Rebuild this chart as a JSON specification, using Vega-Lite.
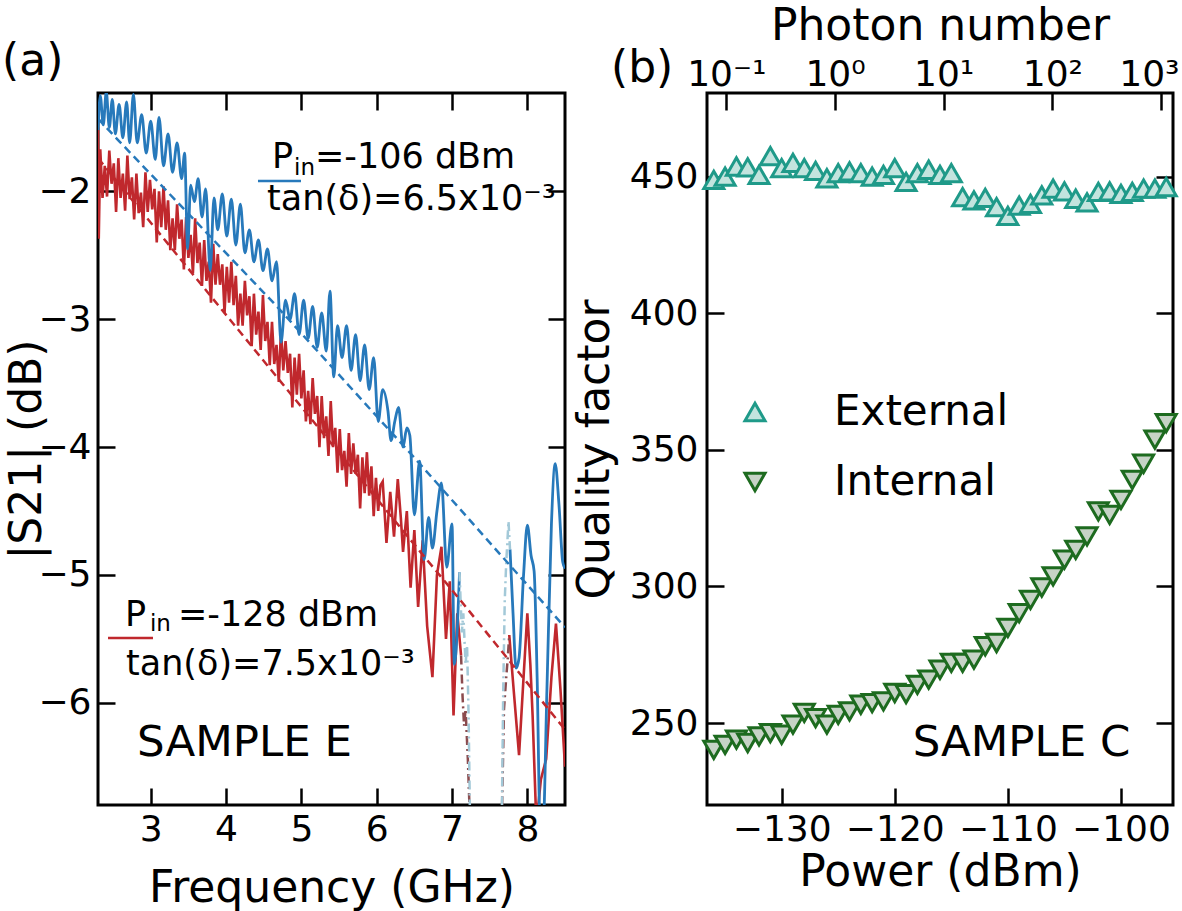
{
  "$schema": "https://vega.github.io/schema/vega-lite/v6.json",
  "padding": {"left": 0, "top": 2, "right": 0, "bottom": 0},
  "background": "white",
  "spacing": 3,
  "resolve": {"legend": {"shape": "independent", "stroke": "independent", "fill": "independent"}},
  "config": {
    "font": "DejaVu Sans",
    "view": {"stroke": "black", "strokeWidth": 3},
    "axis": {"grid": false, "domain": false, "tickColor": "black", "tickWidth": 2.5, "tickSize": -17, "labelPadding": 24, "labelFontSize": 36, "labelColor": "black", "labelFont": "DejaVu Sans", "titleFont": "DejaVu Sans", "titleFontSize": 44, "titleFontWeight": "normal", "titleColor": "black", "labelFlush": false, "labelOverlap": false},
    "title": {"font": "DejaVu Sans", "fontSize": 44, "fontWeight": "normal", "color": "black", "anchor": "start", "frame": "group"}
  },
  "datasets": {
    "blue": [
      {"f":2.30,"db":-1.52,"seg":1},{"f":2.33,"db":-1.25,"seg":1},{"f":2.37,"db":-1.48,"seg":1},{"f":2.41,"db":-1.22,"seg":1},{"f":2.45,"db":-1.50,"seg":1},{"f":2.49,"db":-1.28,"seg":1},{"f":2.53,"db":-1.55,"seg":1},{"f":2.58,"db":-1.32,"seg":1},{"f":2.63,"db":-1.58,"seg":1},{"f":2.68,"db":-1.30,"seg":1},{"f":2.72,"db":-1.62,"seg":1},{"f":2.77,"db":-1.24,"seg":1},{"f":2.82,"db":-1.62,"seg":1},{"f":2.88,"db":-1.40,"seg":1},{"f":2.94,"db":-1.70,"seg":1},{"f":3.00,"db":-1.45,"seg":1},{"f":3.06,"db":-1.75,"seg":1},{"f":3.11,"db":-1.42,"seg":1},{"f":3.17,"db":-1.80,"seg":1},{"f":3.23,"db":-1.55,"seg":1},{"f":3.29,"db":-1.85,"seg":1},{"f":3.35,"db":-1.62,"seg":1},{"f":3.41,"db":-1.90,"seg":1},{"f":3.45,"db":-1.70,"seg":1},{"f":3.49,"db":-2.45,"seg":1},{"f":3.53,"db":-1.95,"seg":1},{"f":3.58,"db":-2.08,"seg":1},{"f":3.63,"db":-1.90,"seg":1},{"f":3.68,"db":-2.20,"seg":1},{"f":3.73,"db":-1.98,"seg":1},{"f":3.79,"db":-2.62,"seg":1},{"f":3.84,"db":-2.05,"seg":1},{"f":3.89,"db":-2.30,"seg":1},{"f":3.95,"db":-2.02,"seg":1},{"f":4.01,"db":-2.35,"seg":1},{"f":4.07,"db":-2.06,"seg":1},{"f":4.13,"db":-2.42,"seg":1},{"f":4.19,"db":-2.10,"seg":1},{"f":4.25,"db":-2.48,"seg":1},{"f":4.31,"db":-2.30,"seg":1},{"f":4.37,"db":-2.55,"seg":1},{"f":4.43,"db":-2.38,"seg":1},{"f":4.49,"db":-2.62,"seg":1},{"f":4.55,"db":-2.45,"seg":1},{"f":4.61,"db":-2.70,"seg":1},{"f":4.67,"db":-2.55,"seg":1},{"f":4.73,"db":-3.18,"seg":1},{"f":4.79,"db":-2.85,"seg":1},{"f":4.85,"db":-3.00,"seg":1},{"f":4.91,"db":-2.80,"seg":1},{"f":4.97,"db":-3.12,"seg":1},{"f":5.03,"db":-2.85,"seg":1},{"f":5.09,"db":-3.15,"seg":1},{"f":5.15,"db":-2.90,"seg":1},{"f":5.21,"db":-3.22,"seg":1},{"f":5.27,"db":-2.95,"seg":1},{"f":5.33,"db":-3.25,"seg":1},{"f":5.38,"db":-2.78,"seg":1},{"f":5.43,"db":-3.45,"seg":1},{"f":5.48,"db":-3.05,"seg":1},{"f":5.54,"db":-3.30,"seg":1},{"f":5.60,"db":-3.05,"seg":1},{"f":5.66,"db":-3.40,"seg":1},{"f":5.72,"db":-3.12,"seg":1},{"f":5.78,"db":-3.48,"seg":1},{"f":5.84,"db":-3.20,"seg":1},{"f":5.90,"db":-3.55,"seg":1},{"f":5.96,"db":-3.30,"seg":1},{"f":6.02,"db":-3.80,"seg":1},{"f":6.08,"db":-3.55,"seg":1},{"f":6.15,"db":-3.72,"seg":1},{"f":6.19,"db":-3.95,"seg":1},{"f":6.24,"db":-3.80,"seg":1},{"f":6.29,"db":-3.69,"seg":1},{"f":6.35,"db":-4.00,"seg":1},{"f":6.40,"db":-3.85,"seg":1},{"f":6.44,"db":-3.91,"seg":1},{"f":6.50,"db":-4.53,"seg":1},{"f":6.57,"db":-4.11,"seg":1},{"f":6.63,"db":-4.88,"seg":1},{"f":6.69,"db":-4.55,"seg":1},{"f":6.74,"db":-4.79,"seg":1},{"f":6.80,"db":-4.50,"seg":1},{"f":6.86,"db":-4.28,"seg":1},{"f":6.93,"db":-4.94,"seg":1},{"f":7.00,"db":-4.60,"seg":1},{"f":7.03,"db":-5.70,"seg":1},{"f":7.10,"db":-4.98,"seg":1},
      {"f":7.77,"db":-4.80,"seg":2},{"f":7.81,"db":-5.30,"seg":2},{"f":7.85,"db":-5.73,"seg":2},{"f":7.89,"db":-5.65,"seg":2},{"f":7.95,"db":-5.00,"seg":2},{"f":8.00,"db":-4.61,"seg":2},{"f":8.05,"db":-4.85,"seg":2},{"f":8.09,"db":-4.97,"seg":2},{"f":8.13,"db":-5.80,"seg":2},{"f":8.17,"db":-6.95,"seg":2},{"f":8.21,"db":-6.95,"seg":2},{"f":8.26,"db":-5.90,"seg":2},{"f":8.32,"db":-4.60,"seg":2},{"f":8.37,"db":-4.13,"seg":2},{"f":8.42,"db":-4.45,"seg":2},{"f":8.47,"db":-4.90,"seg":2},{"f":8.50,"db":-4.95,"seg":2}
    ],
    "red": [
      {"f":2.300,"db":-1.50,"seg":1},{"f":2.310,"db":-2.37,"seg":1},{"f":2.33,"db":-1.67,"seg":1},{"f":2.36,"db":-2.05,"seg":1},{"f":2.39,"db":-1.80,"seg":1},{"f":2.42,"db":-2.04,"seg":1},{"f":2.45,"db":-1.68,"seg":1},{"f":2.48,"db":-1.94,"seg":1},{"f":2.51,"db":-1.78,"seg":1},{"f":2.54,"db":-2.16,"seg":1},{"f":2.57,"db":-1.74,"seg":1},{"f":2.60,"db":-2.05,"seg":1},{"f":2.63,"db":-1.86,"seg":1},{"f":2.66,"db":-2.15,"seg":1},{"f":2.69,"db":-1.72,"seg":1},{"f":2.72,"db":-2.06,"seg":1},{"f":2.75,"db":-1.89,"seg":1},{"f":2.78,"db":-2.22,"seg":1},{"f":2.81,"db":-1.86,"seg":1},{"f":2.84,"db":-2.17,"seg":1},{"f":2.87,"db":-2.01,"seg":1},{"f":2.90,"db":-2.28,"seg":1},{"f":2.93,"db":-1.85,"seg":1},{"f":2.96,"db":-2.16,"seg":1},{"f":2.99,"db":-1.91,"seg":1},{"f":3.02,"db":-2.14,"seg":1},{"f":3.05,"db":-1.98,"seg":1},{"f":3.08,"db":-2.40,"seg":1},{"f":3.11,"db":-2.00,"seg":1},{"f":3.14,"db":-2.28,"seg":1},{"f":3.17,"db":-1.96,"seg":1},{"f":3.20,"db":-2.30,"seg":1},{"f":3.23,"db":-2.07,"seg":1},{"f":3.26,"db":-2.46,"seg":1},{"f":3.29,"db":-2.21,"seg":1},{"f":3.32,"db":-2.46,"seg":1},{"f":3.35,"db":-2.10,"seg":1},{"f":3.38,"db":-2.37,"seg":1},{"f":3.41,"db":-2.22,"seg":1},{"f":3.44,"db":-2.61,"seg":1},{"f":3.47,"db":-2.20,"seg":1},{"f":3.50,"db":-2.52,"seg":1},{"f":3.53,"db":-2.34,"seg":1},{"f":3.56,"db":-2.64,"seg":1},{"f":3.59,"db":-2.21,"seg":1},{"f":3.62,"db":-2.56,"seg":1},{"f":3.65,"db":-2.40,"seg":1},{"f":3.68,"db":-2.74,"seg":1},{"f":3.71,"db":-2.38,"seg":1},{"f":3.74,"db":-2.70,"seg":1},{"f":3.77,"db":-2.55,"seg":1},{"f":3.80,"db":-2.87,"seg":1},{"f":3.83,"db":-2.41,"seg":1},{"f":3.86,"db":-2.73,"seg":1},{"f":3.89,"db":-2.49,"seg":1},{"f":3.92,"db":-2.73,"seg":1},{"f":3.95,"db":-2.57,"seg":1},{"f":3.98,"db":-2.95,"seg":1},{"f":4.01,"db":-2.59,"seg":1},{"f":4.04,"db":-2.87,"seg":1},{"f":4.07,"db":-2.55,"seg":1},{"f":4.10,"db":-2.89,"seg":1},{"f":4.13,"db":-2.66,"seg":1},{"f":4.16,"db":-3.05,"seg":1},{"f":4.19,"db":-2.80,"seg":1},{"f":4.22,"db":-3.05,"seg":1},{"f":4.25,"db":-2.70,"seg":1},{"f":4.28,"db":-2.97,"seg":1},{"f":4.31,"db":-2.82,"seg":1},{"f":4.34,"db":-3.21,"seg":1},{"f":4.37,"db":-2.80,"seg":1},{"f":4.40,"db":-3.12,"seg":1},{"f":4.43,"db":-2.94,"seg":1},{"f":4.46,"db":-3.24,"seg":1},{"f":4.49,"db":-2.81,"seg":1},{"f":4.52,"db":-3.17,"seg":1},{"f":4.55,"db":-3.02,"seg":1},{"f":4.58,"db":-3.36,"seg":1},{"f":4.61,"db":-3.02,"seg":1},{"f":4.64,"db":-3.35,"seg":1},{"f":4.67,"db":-3.20,"seg":1},{"f":4.70,"db":-3.49,"seg":1},{"f":4.73,"db":-3.08,"seg":1},{"f":4.76,"db":-3.40,"seg":1},{"f":4.79,"db":-3.17,"seg":1},{"f":4.82,"db":-3.42,"seg":1},{"f":4.85,"db":-3.27,"seg":1},{"f":4.88,"db":-3.69,"seg":1},{"f":4.91,"db":-3.30,"seg":1},{"f":4.94,"db":-3.59,"seg":1},{"f":4.97,"db":-3.27,"seg":1},{"f":5.00,"db":-3.62,"seg":1},{"f":5.03,"db":-3.40,"seg":1},{"f":5.06,"db":-3.80,"seg":1},{"f":5.09,"db":-3.56,"seg":1},{"f":5.12,"db":-3.82,"seg":1},{"f":5.15,"db":-3.46,"seg":1},{"f":5.18,"db":-3.74,"seg":1},{"f":5.21,"db":-3.60,"seg":1},{"f":5.24,"db":-4.00,"seg":1},{"f":5.27,"db":-3.60,"seg":1},{"f":5.30,"db":-3.93,"seg":1},{"f":5.33,"db":-3.76,"seg":1},{"f":5.36,"db":-4.07,"seg":1},{"f":5.39,"db":-3.64,"seg":1},{"f":5.42,"db":-4.00,"seg":1},{"f":5.45,"db":-3.85,"seg":1},{"f":5.48,"db":-4.20,"seg":1},{"f":5.51,"db":-3.86,"seg":1},{"f":5.54,"db":-4.18,"seg":1},{"f":5.57,"db":-4.03,"seg":1},{"f":5.60,"db":-4.31,"seg":1},{"f":5.63,"db":-3.89,"seg":1},{"f":5.66,"db":-4.21,"seg":1},{"f":5.69,"db":-3.97,"seg":1},{"f":5.72,"db":-4.21,"seg":1},{"f":5.75,"db":-4.06,"seg":1},{"f":5.78,"db":-4.48,"seg":1},{"f":5.81,"db":-4.08,"seg":1},{"f":5.84,"db":-4.36,"seg":1},{"f":5.87,"db":-4.04,"seg":1},{"f":5.90,"db":-4.38,"seg":1},{"f":5.93,"db":-4.15,"seg":1},{"f":5.96,"db":-4.54,"seg":1},{"f":5.99,"db":-4.24,"seg":1},{"f":6.02,"db":-4.50,"seg":1},{"f":6.05,"db":-4.30,"seg":1},{"f":6.08,"db":-4.27,"seg":1},{"f":6.13,"db":-4.75,"seg":1},{"f":6.18,"db":-4.35,"seg":1},{"f":6.23,"db":-4.70,"seg":1},{"f":6.28,"db":-4.25,"seg":1},{"f":6.32,"db":-4.55,"seg":1},{"f":6.35,"db":-4.82,"seg":1},{"f":6.40,"db":-4.50,"seg":1},{"f":6.45,"db":-5.10,"seg":1},{"f":6.50,"db":-4.65,"seg":1},{"f":6.55,"db":-5.25,"seg":1},{"f":6.61,"db":-4.73,"seg":1},{"f":6.67,"db":-5.40,"seg":1},{"f":6.74,"db":-5.80,"seg":1},{"f":6.80,"db":-5.00,"seg":1},{"f":6.86,"db":-4.78,"seg":1},{"f":6.92,"db":-5.50,"seg":1},{"f":6.97,"db":-5.05,"seg":1},{"f":7.02,"db":-6.10,"seg":1},{"f":7.07,"db":-5.30,"seg":1},{"f":7.12,"db":-5.63,"seg":1},
      {"f":7.76,"db":-5.47,"seg":2},{"f":7.82,"db":-5.91,"seg":2},{"f":7.89,"db":-6.41,"seg":2},{"f":7.95,"db":-5.80,"seg":2},{"f":8.00,"db":-5.30,"seg":2},{"f":8.04,"db":-5.70,"seg":2},{"f":8.07,"db":-6.10,"seg":2},{"f":8.12,"db":-6.95,"seg":2},{"f":8.18,"db":-6.60,"seg":2},{"f":8.25,"db":-6.44,"seg":2},{"f":8.32,"db":-5.80,"seg":2},{"f":8.38,"db":-5.38,"seg":2},{"f":8.44,"db":-5.90,"seg":2},{"f":8.50,"db":-6.50,"seg":2}
    ],
    "blue_res": [
      {"f":7.10,"db":-4.98,"seg":"a"},{"f":7.13,"db":-5.45,"seg":"a"},{"f":7.15,"db":-5.30,"seg":"a"},{"f":7.18,"db":-5.70,"seg":"a"},{"f":7.20,"db":-5.55,"seg":"a"},{"f":7.22,"db":-6.10,"seg":"a"},{"f":7.24,"db":-6.95,"seg":"a"},
      {"f":7.66,"db":-6.95,"seg":"b"},{"f":7.68,"db":-5.90,"seg":"b"},{"f":7.70,"db":-5.20,"seg":"b"},{"f":7.72,"db":-4.90,"seg":"b"},{"f":7.75,"db":-4.58,"seg":"b"},{"f":7.77,"db":-4.80,"seg":"b"}
    ],
    "red_res": [
      {"f":7.12,"db":-5.63,"seg":"a"},{"f":7.14,"db":-5.95,"seg":"a"},{"f":7.16,"db":-6.18,"seg":"a"},{"f":7.18,"db":-6.05,"seg":"a"},{"f":7.21,"db":-6.44,"seg":"a"},{"f":7.24,"db":-6.95,"seg":"a"},
      {"f":7.66,"db":-6.95,"seg":"b"},{"f":7.69,"db":-6.05,"seg":"b"},{"f":7.72,"db":-5.80,"seg":"b"},{"f":7.74,"db":-5.65,"seg":"b"},{"f":7.76,"db":-5.47,"seg":"b"}
    ],
    "blue_fit": [{"f":2.30,"db":-1.43},{"f":2.57,"db":-1.60},{"f":4.66,"db":-2.89},{"f":6.48,"db":-4.07},{"f":8.50,"db":-5.41}],
    "red_fit": [{"f":2.30,"db":-1.74},{"f":4.70,"db":-3.47},{"f":6.58,"db":-4.82},{"f":7.10,"db":-5.19},{"f":8.50,"db":-6.21}],
    "ann": [
      {"t":"P","f":4.610,"db":-1.817},
      {"t":"=-106 dBm","f":5.181,"db":-1.817},
      {"t":"tan(δ)=6.5x10⁻³","f":4.544,"db":-2.145},
      {"t":"P","f":2.658,"db":-5.401},
      {"t":"=-128 dBm","f":3.362,"db":-5.401},
      {"t":"tan(δ)=7.5x10⁻³","f":2.672,"db":-5.784}
    ],
    "ann_sub": [
      {"t":"in","f":4.902,"db":-1.872},
      {"t":"in","f":2.990,"db":-5.440}
    ],
    "sample_e": [{"t":"SAMPLE E","f":2.818,"db":-6.418}],
    "keyseg": [
      {"c":"blue","f1":4.424,"f2":4.995,"db":-1.919},
      {"c":"red","f1":2.433,"f2":3.030,"db":-5.494}
    ],
    "qf": [
      {"P":-136,"Q":448.8,"type":"External"},{"P":-135,"Q":450.0,"type":"External"},{"P":-134,"Q":453.7,"type":"External"},{"P":-133,"Q":453.4,"type":"External"},{"P":-132,"Q":450.6,"type":"External"},{"P":-131,"Q":457.5,"type":"External"},{"P":-130,"Q":453.1,"type":"External"},{"P":-129,"Q":455.0,"type":"External"},{"P":-128,"Q":453.1,"type":"External"},{"P":-127,"Q":452.1,"type":"External"},{"P":-126,"Q":449.4,"type":"External"},{"P":-125,"Q":451.3,"type":"External"},{"P":-124,"Q":451.9,"type":"External"},{"P":-123,"Q":451.3,"type":"External"},{"P":-122,"Q":450.0,"type":"External"},{"P":-121,"Q":450.6,"type":"External"},{"P":-120,"Q":453.1,"type":"External"},{"P":-119,"Q":448.1,"type":"External"},{"P":-118,"Q":451.3,"type":"External"},{"P":-117,"Q":452.5,"type":"External"},{"P":-116,"Q":450.6,"type":"External"},{"P":-115,"Q":451.3,"type":"External"},{"P":-114,"Q":442.5,"type":"External"},{"P":-113,"Q":441.3,"type":"External"},{"P":-112,"Q":442.2,"type":"External"},{"P":-111,"Q":438.8,"type":"External"},{"P":-110,"Q":435.6,"type":"External"},{"P":-109,"Q":439.4,"type":"External"},{"P":-108,"Q":440.0,"type":"External"},{"P":-107,"Q":443.1,"type":"External"},{"P":-106,"Q":445.6,"type":"External"},{"P":-105,"Q":444.6,"type":"External"},{"P":-104,"Q":441.9,"type":"External"},{"P":-103,"Q":440.6,"type":"External"},{"P":-102,"Q":444.4,"type":"External"},{"P":-101,"Q":444.6,"type":"External"},{"P":-100,"Q":443.7,"type":"External"},{"P":-99,"Q":444.4,"type":"External"},{"P":-98,"Q":445.6,"type":"External"},{"P":-97,"Q":445.6,"type":"External"},{"P":-96,"Q":446.2,"type":"External"},
      {"P":-136,"Q":240.2,"type":"Internal"},{"P":-135,"Q":242.0,"type":"Internal"},{"P":-134,"Q":243.9,"type":"Internal"},{"P":-133,"Q":242.7,"type":"Internal"},{"P":-132,"Q":245.1,"type":"Internal"},{"P":-131,"Q":246.3,"type":"Internal"},{"P":-130,"Q":245.7,"type":"Internal"},{"P":-129,"Q":249.4,"type":"Internal"},{"P":-128,"Q":253.7,"type":"Internal"},{"P":-127,"Q":251.8,"type":"Internal"},{"P":-126,"Q":249.4,"type":"Internal"},{"P":-125,"Q":253.0,"type":"Internal"},{"P":-124,"Q":254.3,"type":"Internal"},{"P":-123,"Q":256.7,"type":"Internal"},{"P":-122,"Q":257.3,"type":"Internal"},{"P":-121,"Q":257.9,"type":"Internal"},{"P":-120,"Q":261.0,"type":"Internal"},{"P":-119,"Q":260.6,"type":"Internal"},{"P":-118,"Q":264.0,"type":"Internal"},{"P":-117,"Q":265.9,"type":"Internal"},{"P":-116,"Q":269.5,"type":"Internal"},{"P":-115,"Q":272.0,"type":"Internal"},{"P":-114,"Q":272.0,"type":"Internal"},{"P":-113,"Q":273.2,"type":"Internal"},{"P":-112,"Q":278.1,"type":"Internal"},{"P":-111,"Q":279.3,"type":"Internal"},{"P":-110,"Q":284.8,"type":"Internal"},{"P":-109,"Q":290.2,"type":"Internal"},{"P":-108,"Q":295.1,"type":"Internal"},{"P":-107,"Q":299.6,"type":"Internal"},{"P":-106,"Q":303.7,"type":"Internal"},{"P":-105,"Q":309.8,"type":"Internal"},{"P":-104,"Q":313.4,"type":"Internal"},{"P":-103,"Q":318.3,"type":"Internal"},{"P":-102,"Q":327.5,"type":"Internal"},{"P":-101,"Q":326.2,"type":"Internal"},{"P":-100,"Q":331.7,"type":"Internal"},{"P":-99,"Q":339.0,"type":"Internal"},{"P":-98,"Q":344.9,"type":"Internal"},{"P":-97,"Q":353.7,"type":"Internal"},{"P":-96,"Q":359.8,"type":"Internal"}
    ],
    "sample_c": [{"t":"SAMPLE C","P":-118.42,"Q":237.9}],
    "photon": [{"n":0.1},{"n":1},{"n":10},{"n":100},{"n":1000}]
  },
  "hconcat": [
    {
      "width": 467,
      "height": 712,
      "title": {"text": "(a)", "dx": -96, "dy": 45, "offset": 18, "baseline": "alphabetic"},
      "resolve": {"axis": {"x": "independent", "y": "independent"}},
      "layer": [
        {
          "data": {"name": "red"},
          "mark": {"type": "line", "color": "#c0282d", "strokeWidth": 2.6, "clip": true},
          "encoding": {
            "x": {"field": "f", "type": "quantitative", "scale": {"domain": [2.3, 8.5], "nice": false, "zero": false}, "axis": {"orient": "bottom", "values": [3, 4, 5, 6, 7, 8], "title": "Frequency (GHz)", "titlePadding": 19}},
            "y": {"field": "db", "type": "quantitative", "scale": {"domain": [-6.8, -1.23], "nice": false, "zero": false}, "axis": {"orient": "left", "values": [-6, -5, -4, -3, -2], "title": "|S21| (dB)", "titlePadding": -12}},
            "detail": {"field": "seg"}
          }
        },
        {
          "data": {"name": "blue"},
          "mark": {"type": "line", "color": "#2779bb", "strokeWidth": 2.8, "clip": true, "interpolate": "monotone"},
          "encoding": {
            "x": {"field": "f", "type": "quantitative", "scale": {"domain": [2.3, 8.5], "nice": false, "zero": false}, "axis": null},
            "y": {"field": "db", "type": "quantitative", "scale": {"domain": [-6.8, -1.23], "nice": false, "zero": false}, "axis": null},
            "detail": {"field": "seg"}
          }
        },
        {
          "data": {"name": "red_res"},
          "mark": {"type": "line", "color": "#8b4b4e", "strokeWidth": 2.5, "strokeDash": [9, 4, 2, 4], "clip": true},
          "encoding": {
            "x": {"field": "f", "type": "quantitative", "scale": {"domain": [2.3, 8.5], "nice": false, "zero": false}, "axis": null},
            "y": {"field": "db", "type": "quantitative", "scale": {"domain": [-6.8, -1.23], "nice": false, "zero": false}, "axis": null},
            "detail": {"field": "seg"}
          }
        },
        {
          "data": {"name": "blue_res"},
          "mark": {"type": "line", "color": "#a3c9d8", "strokeWidth": 2.5, "strokeDash": [9, 4, 2, 4], "clip": true},
          "encoding": {
            "x": {"field": "f", "type": "quantitative", "scale": {"domain": [2.3, 8.5], "nice": false, "zero": false}, "axis": null},
            "y": {"field": "db", "type": "quantitative", "scale": {"domain": [-6.8, -1.23], "nice": false, "zero": false}, "axis": null},
            "detail": {"field": "seg"}
          }
        },
        {
          "data": {"name": "red_fit"},
          "mark": {"type": "line", "color": "#c0282d", "strokeWidth": 2.5, "strokeDash": [8, 5], "clip": true},
          "encoding": {
            "x": {"field": "f", "type": "quantitative", "scale": {"domain": [2.3, 8.5], "nice": false, "zero": false}, "axis": null},
            "y": {"field": "db", "type": "quantitative", "scale": {"domain": [-6.8, -1.23], "nice": false, "zero": false}, "axis": null}
          }
        },
        {
          "data": {"name": "blue_fit"},
          "mark": {"type": "line", "color": "#2779bb", "strokeWidth": 2.5, "strokeDash": [8, 5], "clip": true},
          "encoding": {
            "x": {"field": "f", "type": "quantitative", "scale": {"domain": [2.3, 8.5], "nice": false, "zero": false}, "axis": {"orient": "top", "values": [3, 4, 5, 6, 7, 8], "labels": false, "title": null}},
            "y": {"field": "db", "type": "quantitative", "scale": {"domain": [-6.8, -1.23], "nice": false, "zero": false}, "axis": {"orient": "right", "values": [-6, -5, -4, -3, -2], "labels": false, "title": null}}
          }
        },
        {
          "data": {"name": "keyseg"},
          "mark": {"type": "rule", "strokeWidth": 2.5},
          "encoding": {
            "x": {"field": "f1", "type": "quantitative", "scale": {"domain": [2.3, 8.5], "nice": false, "zero": false}, "axis": null},
            "x2": {"field": "f2"},
            "y": {"field": "db", "type": "quantitative", "scale": {"domain": [-6.8, -1.23], "nice": false, "zero": false}, "axis": null},
            "color": {"field": "c", "type": "nominal", "scale": {"domain": ["blue", "red"], "range": ["#2779bb", "#c0282d"]}, "legend": null}
          }
        },
        {
          "data": {"name": "ann"},
          "mark": {"type": "text", "align": "left", "baseline": "alphabetic", "fontSize": 35, "font": "DejaVu Sans", "color": "black"},
          "encoding": {
            "x": {"field": "f", "type": "quantitative", "scale": {"domain": [2.3, 8.5], "nice": false, "zero": false}, "axis": null},
            "y": {"field": "db", "type": "quantitative", "scale": {"domain": [-6.8, -1.23], "nice": false, "zero": false}, "axis": null},
            "text": {"field": "t"}
          }
        },
        {
          "data": {"name": "ann_sub"},
          "mark": {"type": "text", "align": "left", "baseline": "alphabetic", "fontSize": 23, "font": "DejaVu Sans", "color": "black"},
          "encoding": {
            "x": {"field": "f", "type": "quantitative", "scale": {"domain": [2.3, 8.5], "nice": false, "zero": false}, "axis": null},
            "y": {"field": "db", "type": "quantitative", "scale": {"domain": [-6.8, -1.23], "nice": false, "zero": false}, "axis": null},
            "text": {"field": "t"}
          }
        },
        {
          "data": {"name": "sample_e"},
          "mark": {"type": "text", "align": "left", "baseline": "alphabetic", "fontSize": 43.5, "font": "DejaVu Sans", "color": "black"},
          "encoding": {
            "x": {"field": "f", "type": "quantitative", "scale": {"domain": [2.3, 8.5], "nice": false, "zero": false}, "axis": null},
            "y": {"field": "db", "type": "quantitative", "scale": {"domain": [-6.8, -1.23], "nice": false, "zero": false}, "axis": null},
            "text": {"field": "t"}
          }
        }
      ]
    },
    {
      "width": 466,
      "height": 712,
      "title": {"text": "(b)", "dx": -96, "dy": 122, "offset": 0, "baseline": "alphabetic"},
      "resolve": {"scale": {"x": "independent"}, "axis": {"x": "independent", "y": "independent"}},
      "layer": [
        {
          "data": {"name": "qf"},
          "mark": {"type": "point", "opacity": 1, "strokeWidth": 3, "size": 400},
          "encoding": {
            "x": {"field": "P", "type": "quantitative", "scale": {"domain": [-136.6, -95.4], "nice": false, "zero": false}, "axis": {"orient": "bottom", "values": [-130, -120, -110, -100], "title": "Power (dBm)", "titlePadding": 3}},
            "y": {"field": "Q", "type": "quantitative", "scale": {"domain": [220, 480.6], "nice": false, "zero": false}, "axis": {"orient": "left", "values": [250, 300, 350, 400, 450], "title": "Quality factor", "titlePadding": 12, "labelPadding": 26}},
            "shape": {"field": "type", "type": "nominal", "scale": {"domain": ["External", "Internal"], "range": ["triangle-up", "triangle-down"]}, "legend": {"title": null, "orient": "none", "legendX": 27, "legendY": 298, "labelFontSize": 42, "labelFont": "DejaVu Sans", "labelColor": "black", "labelLimit": 400, "symbolSize": 400, "symbolStrokeWidth": 3, "labelOffset": 58, "rowPadding": 28, "padding": 0}},
            "stroke": {"field": "type", "type": "nominal", "scale": {"domain": ["External", "Internal"], "range": ["#1f9a89", "#1d6b1f"]}, "legend": {"title": null, "orient": "none", "legendX": 27, "legendY": 298, "labelFontSize": 42, "labelFont": "DejaVu Sans", "labelColor": "black", "labelLimit": 400, "symbolSize": 400, "symbolStrokeWidth": 3, "labelOffset": 58, "rowPadding": 28, "padding": 0}},
            "fill": {"field": "type", "type": "nominal", "scale": {"domain": ["External", "Internal"], "range": ["#c3e4de", "#c6d3c6"]}, "legend": {"title": null, "orient": "none", "legendX": 27, "legendY": 298, "labelFontSize": 42, "labelFont": "DejaVu Sans", "labelColor": "black", "labelLimit": 400, "symbolSize": 400, "symbolStrokeWidth": 3, "labelOffset": 58, "rowPadding": 28, "padding": 0}}
          }
        },
        {
          "data": {"name": "qf"},
          "mark": {"type": "point", "opacity": 0},
          "encoding": {
            "x": {"field": "P", "type": "quantitative", "scale": {"domain": [-136.6, -95.4], "nice": false, "zero": false}, "axis": null},
            "y": {"field": "Q", "type": "quantitative", "scale": {"domain": [220, 480.6], "nice": false, "zero": false}, "axis": {"orient": "right", "values": [250, 300, 350, 400, 450], "labels": false, "title": null}}
          }
        },
        {
          "data": {"name": "sample_c"},
          "mark": {"type": "text", "align": "left", "baseline": "alphabetic", "fontSize": 43.5, "font": "DejaVu Sans", "color": "black"},
          "encoding": {
            "x": {"field": "P", "type": "quantitative", "scale": {"domain": [-136.6, -95.4], "nice": false, "zero": false}, "axis": null},
            "y": {"field": "Q", "type": "quantitative", "scale": {"domain": [220, 480.6], "nice": false, "zero": false}, "axis": null},
            "text": {"field": "t"}
          }
        },
        {
          "data": {"name": "photon"},
          "mark": {"type": "point", "opacity": 0},
          "encoding": {
            "x": {"field": "n", "type": "quantitative", "scale": {"type": "log", "domain": [0.0664, 1288], "nice": false}, "axis": {"orient": "top", "values": [0.1, 1, 10, 100, 1000], "labelExpr": "datum.value < 0.5 ? '10⁻¹' : datum.value < 5 ? '10⁰' : datum.value < 50 ? '10¹' : datum.value < 500 ? '10²' : '10³'", "title": "Photon number", "labelPadding": 17, "titlePadding": 8, "labelFlush": 15, "labelFlushOffset": 18}}
          }
        }
      ]
    }
  ]
}
